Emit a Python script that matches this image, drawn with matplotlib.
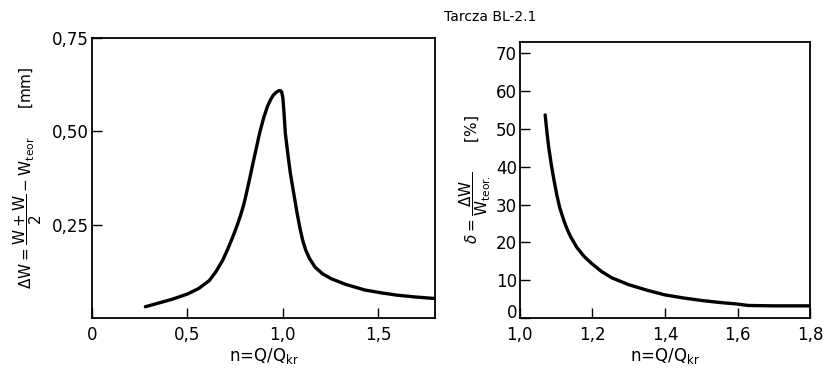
import numpy as np
import matplotlib
matplotlib.use("Agg")
import matplotlib.pyplot as plt

# left panel: dW vs n
n_left = [0.28, 0.35, 0.42, 0.50, 0.56, 0.615, 0.65, 0.684, 0.71, 0.736, 0.76, 0.78, 0.795,
          0.806, 0.82, 0.832, 0.845, 0.858, 0.88, 0.901, 0.92, 0.936, 0.95, 0.965, 0.978,
          0.988, 0.995, 1.001, 1.007, 1.014, 1.027, 1.04, 1.057, 1.075, 1.09, 1.105, 1.12,
          1.14, 1.17, 1.21, 1.255, 1.33, 1.43, 1.52, 1.60, 1.70, 1.80]
dw_left = [0.030, 0.040, 0.050, 0.064, 0.079, 0.100, 0.124, 0.153, 0.182, 0.214, 0.246, 0.276, 0.302,
           0.325, 0.357, 0.385, 0.416, 0.446, 0.497, 0.537, 0.566, 0.584, 0.596, 0.604, 0.608,
           0.609, 0.605, 0.590, 0.550, 0.495, 0.440, 0.389, 0.337, 0.283, 0.242, 0.208, 0.183,
           0.160, 0.136, 0.118, 0.105, 0.090, 0.075, 0.067, 0.061, 0.056, 0.052]

# right panel: delta [%] vs n
n_right = [1.07, 1.075, 1.08, 1.087, 1.094, 1.102, 1.11, 1.121, 1.13, 1.14, 1.157, 1.177,
           1.197, 1.225, 1.254, 1.30, 1.352, 1.40, 1.45, 1.503, 1.55, 1.597, 1.63, 1.70, 1.80]
delta_right = [53.7, 49.0, 45.0, 40.5, 36.6, 32.6, 29.2, 25.9, 23.6, 21.5, 18.7, 16.3,
               14.5, 12.3, 10.6, 8.8, 7.3, 6.1, 5.3, 4.6, 4.1, 3.7, 3.3, 3.2, 3.2]

left_xticks = [0, 0.5, 1.0, 1.5]
left_xlabels = ["0", "0,5", "1,0", "1,5"]
left_yticks = [0.25, 0.5, 0.75]
left_ylabels = ["0,25", "0,50", "0,75"]
right_xticks = [1.0, 1.2, 1.4, 1.6, 1.8]
right_xlabels = ["1,0", "1,2", "1,4", "1,6", "1,8"]
right_yticks = [0, 10, 20, 30, 40, 50, 60, 70]

plt.rcParams["font.family"] = "DejaVu Sans"
fig = plt.figure(figsize=(8.25, 3.68), dpi=100)

ax1 = fig.add_axes([0.1115, 0.136, 0.416, 0.761])
ax1.plot(n_left, dw_left, color="black", lw=2.4, solid_capstyle="round")
ax1.set_xlim(0, 1.8)
ax1.set_ylim(0, 0.75)
ax1.set_xticks(left_xticks)
ax1.set_xticklabels(left_xlabels)
ax1.set_yticks(left_yticks)
ax1.set_yticklabels(left_ylabels)
ax1.set_xlabel(r"n=Q/Q$_{\mathrm{kr}}$", fontsize=12, labelpad=1)
ax1.set_ylabel(r"$\Delta\mathrm{W}=\dfrac{\mathrm{W+W}}{2}-\mathrm{W}_{\mathrm{teor}}$      [mm]",
               fontsize=11, labelpad=6)

ax2 = fig.add_axes([0.630, 0.136, 0.352, 0.750])
ax2.plot(n_right, delta_right, color="black", lw=2.4, solid_capstyle="round")
ax2.set_xlim(1.0, 1.8)
ax2.set_ylim(0, 73)
ax2.set_xticks(right_xticks)
ax2.set_xticklabels(right_xlabels)
ax2.set_yticks(right_yticks)
ax2.set_xlabel(r"n=Q/Q$_{\mathrm{kr}}$", fontsize=12, labelpad=1)
ax2.set_ylabel(r"$\delta=\dfrac{\Delta\mathrm{W}}{\mathrm{W}_{\mathrm{teor.}}}$      [%]",
               fontsize=11, labelpad=2)

for ax in (ax1, ax2):
    ax.tick_params(direction="in", length=7, width=1.0, labelsize=12)
    ax.tick_params(axis="x", pad=6)
    ax.tick_params(axis="y", pad=2)
    for sp in ax.spines.values():
        sp.set_linewidth(1.3)

# "0" on the right y axis sits on the axis line, clear of "1,0"
ax2.get_yticklabels()[0].set_verticalalignment("baseline")

fig.text(0.594, 0.955, "Tarcza BL-2.1", ha="center", va="center", fontsize=10)

fig.savefig("out.png", dpi=100)
